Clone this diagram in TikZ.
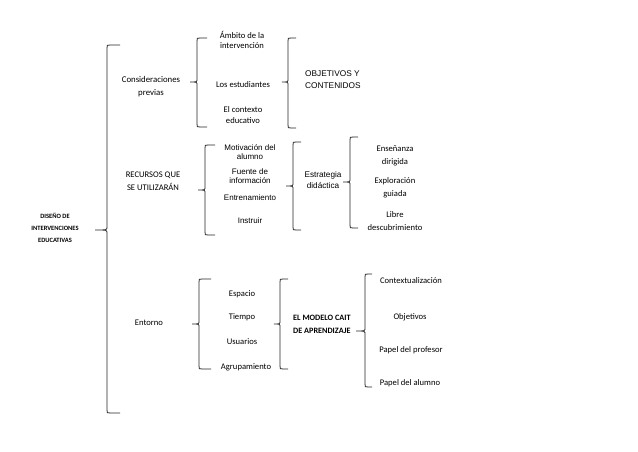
\documentclass[tikz,border=0pt]{standalone}
\usepackage{fontspec}
\setmainfont{Carlito}
\newfontfamily\arialf{Liberation Sans}

% left brace: x, top, bottom, tip y, tip x, hook
\newcommand{\lbrc}[6]{%
  \draw[brc] ({#1+#6},#2) -- ({#1+3},#2) .. controls (#1,#2) .. (#1,{#2+3})
    -- (#1,{#4-3}) .. controls (#1,#4) .. (#5,#4)
    .. controls (#1,#4) .. (#1,{#4+3})
    -- (#1,{#3-3}) .. controls (#1,#3) .. ({#1+3},#3) -- ({#1+#6},#3);}

\tikzset{
  txt/.style={font=\fontsize{8.6}{11.5}\selectfont, align=center, inner sep=0pt},
  atxt/.style={font=\arialf\fontsize{8}{9.5}\selectfont, align=center, inner sep=0pt},
  btxt/.style={font=\bfseries\fontsize{8.2}{13}\selectfont, align=left, inner sep=0pt},
  brc/.style={line width=0.8pt, black!85},
}

\begin{document}
\begin{tikzpicture}[x=1pt,y=-1pt]
  \useasboundingbox (0,0) rectangle (638,452);

  % root
  \node[txt, font=\bfseries\fontsize{6.5}{12}\selectfont] (dis) at (55,228)
    {DISEÑO DE\\INTERVENCIONES\\EDUCATIVAS};
  \lbrc{107}{45}{413}{230}{95}{13}

  % consideraciones
  \node[txt, font=\fontsize{8.8}{13}\selectfont] (cons) at (151,86.5) {Consideraciones\\previas};
  \lbrc{197}{38}{127}{82}{190}{10}
  \node[txt, font=\fontsize{8.6}{10.5}\selectfont] (amb) at (242,40) {Ámbito de la\\intervención};
  \node[txt] (est) at (243,85) {Los estudiantes};
  \node[txt, font=\fontsize{8.6}{10.5}\selectfont] (ctx) at (243,115) {El contexto\\educativo};
  \lbrc{288}{38}{128}{82}{282}{8}
  \node[atxt, font=\arialf\fontsize{8.3}{12}\selectfont, align=left, anchor=west] (obj) at (305,80)
    {OBJETIVOS Y\\CONTENIDOS};

  % recursos
  \node[txt, font=\fontsize{8.6}{12.5}\selectfont] (rec) at (153,181) {RECURSOS QUE\\SE UTILIZARÁN};
  \lbrc{205}{145}{235}{190}{198}{10}
  \node[atxt] (mot) at (250,152) {Motivación del\\alumno};
  \node[atxt] (fue) at (250,176) {Fuente de\\información};
  \node[atxt] (ent) at (250,198) {Entrenamiento};
  \node[atxt] (ins) at (250,221) {Instruir};
  \lbrc{293}{142}{230}{186}{286}{8}
  \node[atxt, font=\arialf\fontsize{8.2}{10.5}\selectfont] (estr) at (323,180) {Estrategia\\didáctica};
  \lbrc{350}{137}{228}{182}{343}{8}
  \node[txt, font=\fontsize{8.6}{12.5}\selectfont] (ens) at (395,156) {Enseñanza\\dirigida};
  \node[txt, font=\fontsize{8.6}{12.5}\selectfont] (exp) at (395,188) {Exploración\\guiada};
  \node[txt, font=\fontsize{8.6}{12.5}\selectfont] (lib) at (395,221) {Libre\\descubrimiento};

  % entorno
  \node[txt] (ento) at (149,323) {Entorno};
  \lbrc{199}{279}{369}{324}{192}{12}
  \node[txt] (esp) at (242,294) {Espacio};
  \node[txt] (tie) at (242,317) {Tiempo};
  \node[txt] (usu) at (242,342) {Usuarios};
  \node[txt] (agr) at (246,367) {Agrupamiento};
  \lbrc{280}{279}{369}{324}{274}{8}
  \node[btxt, anchor=west] (mod) at (293,324) {EL MODELO CAIT\\DE APRENDIZAJE};
  \lbrc{365}{274}{387}{331}{356}{7}
  \node[txt] (con) at (411,281) {Contextualización};
  \node[txt] (objv) at (410,317) {Objetivos};
  \node[txt] (pap) at (411,350) {Papel del profesor};
  \node[txt] (pal) at (410,383) {Papel del alumno};
\end{tikzpicture}
\end{document}
